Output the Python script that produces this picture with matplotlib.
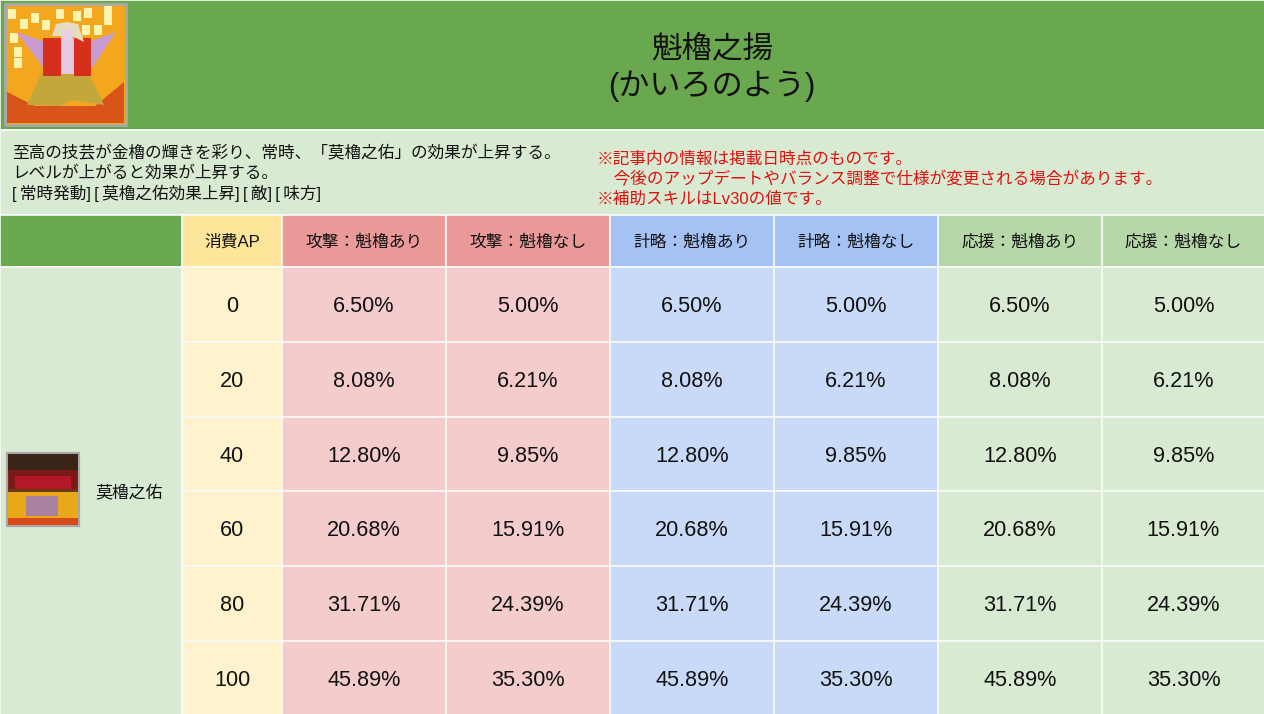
import matplotlib
matplotlib.use('Agg')
import matplotlib.pyplot as plt
from matplotlib.patches import Rectangle, Polygon, Circle

plt.rcParams['font.family'] = ['Liberation Sans', 'Noto Sans CJK JP', 'DejaVu Sans']

# table data
title_lines = ['魁櫓之揚', '(かいろのよう)']
desc_lines = ['至高の技芸が金櫓の輝きを彩り、常時、「莫櫓之佑」の効果が上昇する。',
              'レベルが上がると効果が上昇する。',
              '[\u2009常時発動]\u2009[\u2009莫櫓之佑効果上昇]\u2009[\u2009敵]\u2009[\u2009味方]']
note_lines = ['※記事内の情報は掲載日時点のものです。',
              '\u3000今後のアップデートやバランス調整で仕様が変更される場合があります。',
              '※補助スキルはLv30の値です。']
skill_name = '莫櫓之佑'
headers = ['消費AP', '攻撃：魁櫓あり', '攻撃：魁櫓なし', '計略：魁櫓あり',
           '計略：魁櫓なし', '応援：魁櫓あり', '応援：魁櫓なし']
ap_levels = ['0', '20', '40', '60', '80', '100']
with_kairo = ['6.50%', '8.08%', '12.80%', '20.68%', '31.71%', '45.89%']
without_kairo = ['5.00%', '6.21%', '9.85%', '15.91%', '24.39%', '35.30%']

# layout in pixels
col_edges = [0, 182, 282, 446, 610, 774, 938, 1102, 1265]
row_edges = [267, 342, 417, 491, 566, 641, 716]
header_fill = ['#ffe599', '#ea9999', '#ea9999', '#a4c2f4', '#a4c2f4', '#b6d7a8', '#b6d7a8']
body_fill = ['#fff2cc', '#f4cccc', '#f4cccc', '#c9daf8', '#c9daf8', '#d9ead3', '#d9ead3']
GREEN = '#6aa84f'
PALE = '#d9ead3'
GRID = '#f8faf7'

fig = plt.figure(figsize=(12.64, 7.14), dpi=100)
ax = fig.add_axes([0, 0, 1, 1])
ax.set_xlim(0, 1264)
ax.set_ylim(714, 0)
ax.axis('off')


def cell(x0, y0, x1, y1, color):
    ax.add_patch(Rectangle((x0, y0), x1 - x0, y1 - y0, facecolor=color,
                           edgecolor=GRID, linewidth=1.2))


# banner and description
cell(0, 0, 1265, 130, GREEN)
cell(0, 130, 1265, 215, PALE)
ax.text(712, 49, title_lines[0], fontsize=22, ha='center', va='center', color='#111111')
ax.text(711.5, 86, title_lines[1], fontsize=22.4, ha='center', va='center', color='#111111')

for i, line in enumerate(desc_lines):
    ax.text(12, 153 + i * 20.2, line, fontsize=12, va='center', color='#111111')
for i, line in enumerate(note_lines):
    ax.text(597, 159 + i * 20, line, fontsize=12, va='center', color='#e01010')

# header row
cell(col_edges[0], 215, col_edges[1], 267, GREEN)
for i, label in enumerate(headers):
    cell(col_edges[i + 1], 215, col_edges[i + 2], 267, header_fill[i])
    ax.text((col_edges[i + 1] + col_edges[i + 2]) / 2, 242, label, fontsize=12.1,
            ha='center', va='center', color='#111111')

# body
cell(col_edges[0], 267, col_edges[1], 716, PALE)
ax.text(129.5, 492, skill_name, fontsize=12.2, ha='center', va='center', color='#111111')

for r, ap in enumerate(ap_levels):
    y0, y1 = row_edges[r], row_edges[r + 1]
    row_vals = [ap, with_kairo[r], without_kairo[r], with_kairo[r],
                without_kairo[r], with_kairo[r], without_kairo[r]]
    for c, val in enumerate(row_vals):
        x0, x1 = col_edges[c + 1], col_edges[c + 2]
        cell(x0, y0, x1, y1, body_fill[c])
        ax.text((x0 + x1) / 2, (y0 + y1) / 2 + 2, val, fontsize=15.6,
                ha='center', va='center', color='#111111')

# character icon, rough shapes
ax.add_patch(Rectangle((5, 4), 121, 121, facecolor='#f2a71e', edgecolor='#a8a8a8', linewidth=2))
ax.add_patch(Polygon([(7, 123), (7, 92), (35, 106), (95, 106), (124, 82), (124, 123)],
                     facecolor='#d9541a', edgecolor='none'))
for lx, ly in [(12, 14), (24, 24), (14, 38), (18, 52), (18, 63), (35, 18), (46, 25),
               (60, 14), (77, 16), (88, 13), (108, 20), (98, 30), (86, 30), (108, 11)]:
    ax.add_patch(Rectangle((lx - 4, ly - 5), 8, 10, facecolor='#fff3b0', edgecolor='none'))
ax.add_patch(Polygon([(16, 32), (45, 42), (45, 70), (30, 50)], facecolor='#c79ad0', edgecolor='none'))
ax.add_patch(Polygon([(116, 32), (88, 42), (92, 68), (104, 50)], facecolor='#c79ad0', edgecolor='none'))
ax.add_patch(Polygon([(27, 105), (42, 72), (88, 72), (104, 105), (72, 100), (60, 106)],
                     facecolor='#c2a83a', edgecolor='none'))
ax.add_patch(Rectangle((43, 38), 18, 38, facecolor='#d6301c', edgecolor='none'))
ax.add_patch(Rectangle((74, 38), 17, 38, facecolor='#d6301c', edgecolor='none'))
ax.add_patch(Rectangle((61, 38), 13, 36, facecolor='#e8c8e0', edgecolor='none'))
ax.add_patch(Polygon([(52, 36), (56, 24), (67, 22), (78, 24), (84, 42), (72, 36), (62, 36)],
                     facecolor='#e6dcc0', edgecolor='none'))
ax.add_patch(Circle((67, 35), 6, facecolor='#e8d0e0', edgecolor='none'))

# skill icon, rough shapes
ax.add_patch(Rectangle((7, 453), 72, 73, facecolor='#7a1a14', edgecolor='#a8a8a8', linewidth=1.6))
ax.add_patch(Rectangle((8, 454), 70, 16, facecolor='#3a2418', edgecolor='none'))
ax.add_patch(Rectangle((15, 476), 56, 14, facecolor='#b3182a', edgecolor='none'))
ax.add_patch(Rectangle((8, 490), 70, 35, facecolor='#e8a818', edgecolor='none'))
ax.add_patch(Rectangle((8, 489), 70, 3, facecolor='#6a3a10', edgecolor='none'))
ax.add_patch(Rectangle((26, 496), 32, 20, facecolor='#a880a0', edgecolor='none'))
ax.add_patch(Rectangle((8, 518), 70, 7, facecolor='#d84a18', edgecolor='none'))

fig.savefig('out.png', dpi=100)
